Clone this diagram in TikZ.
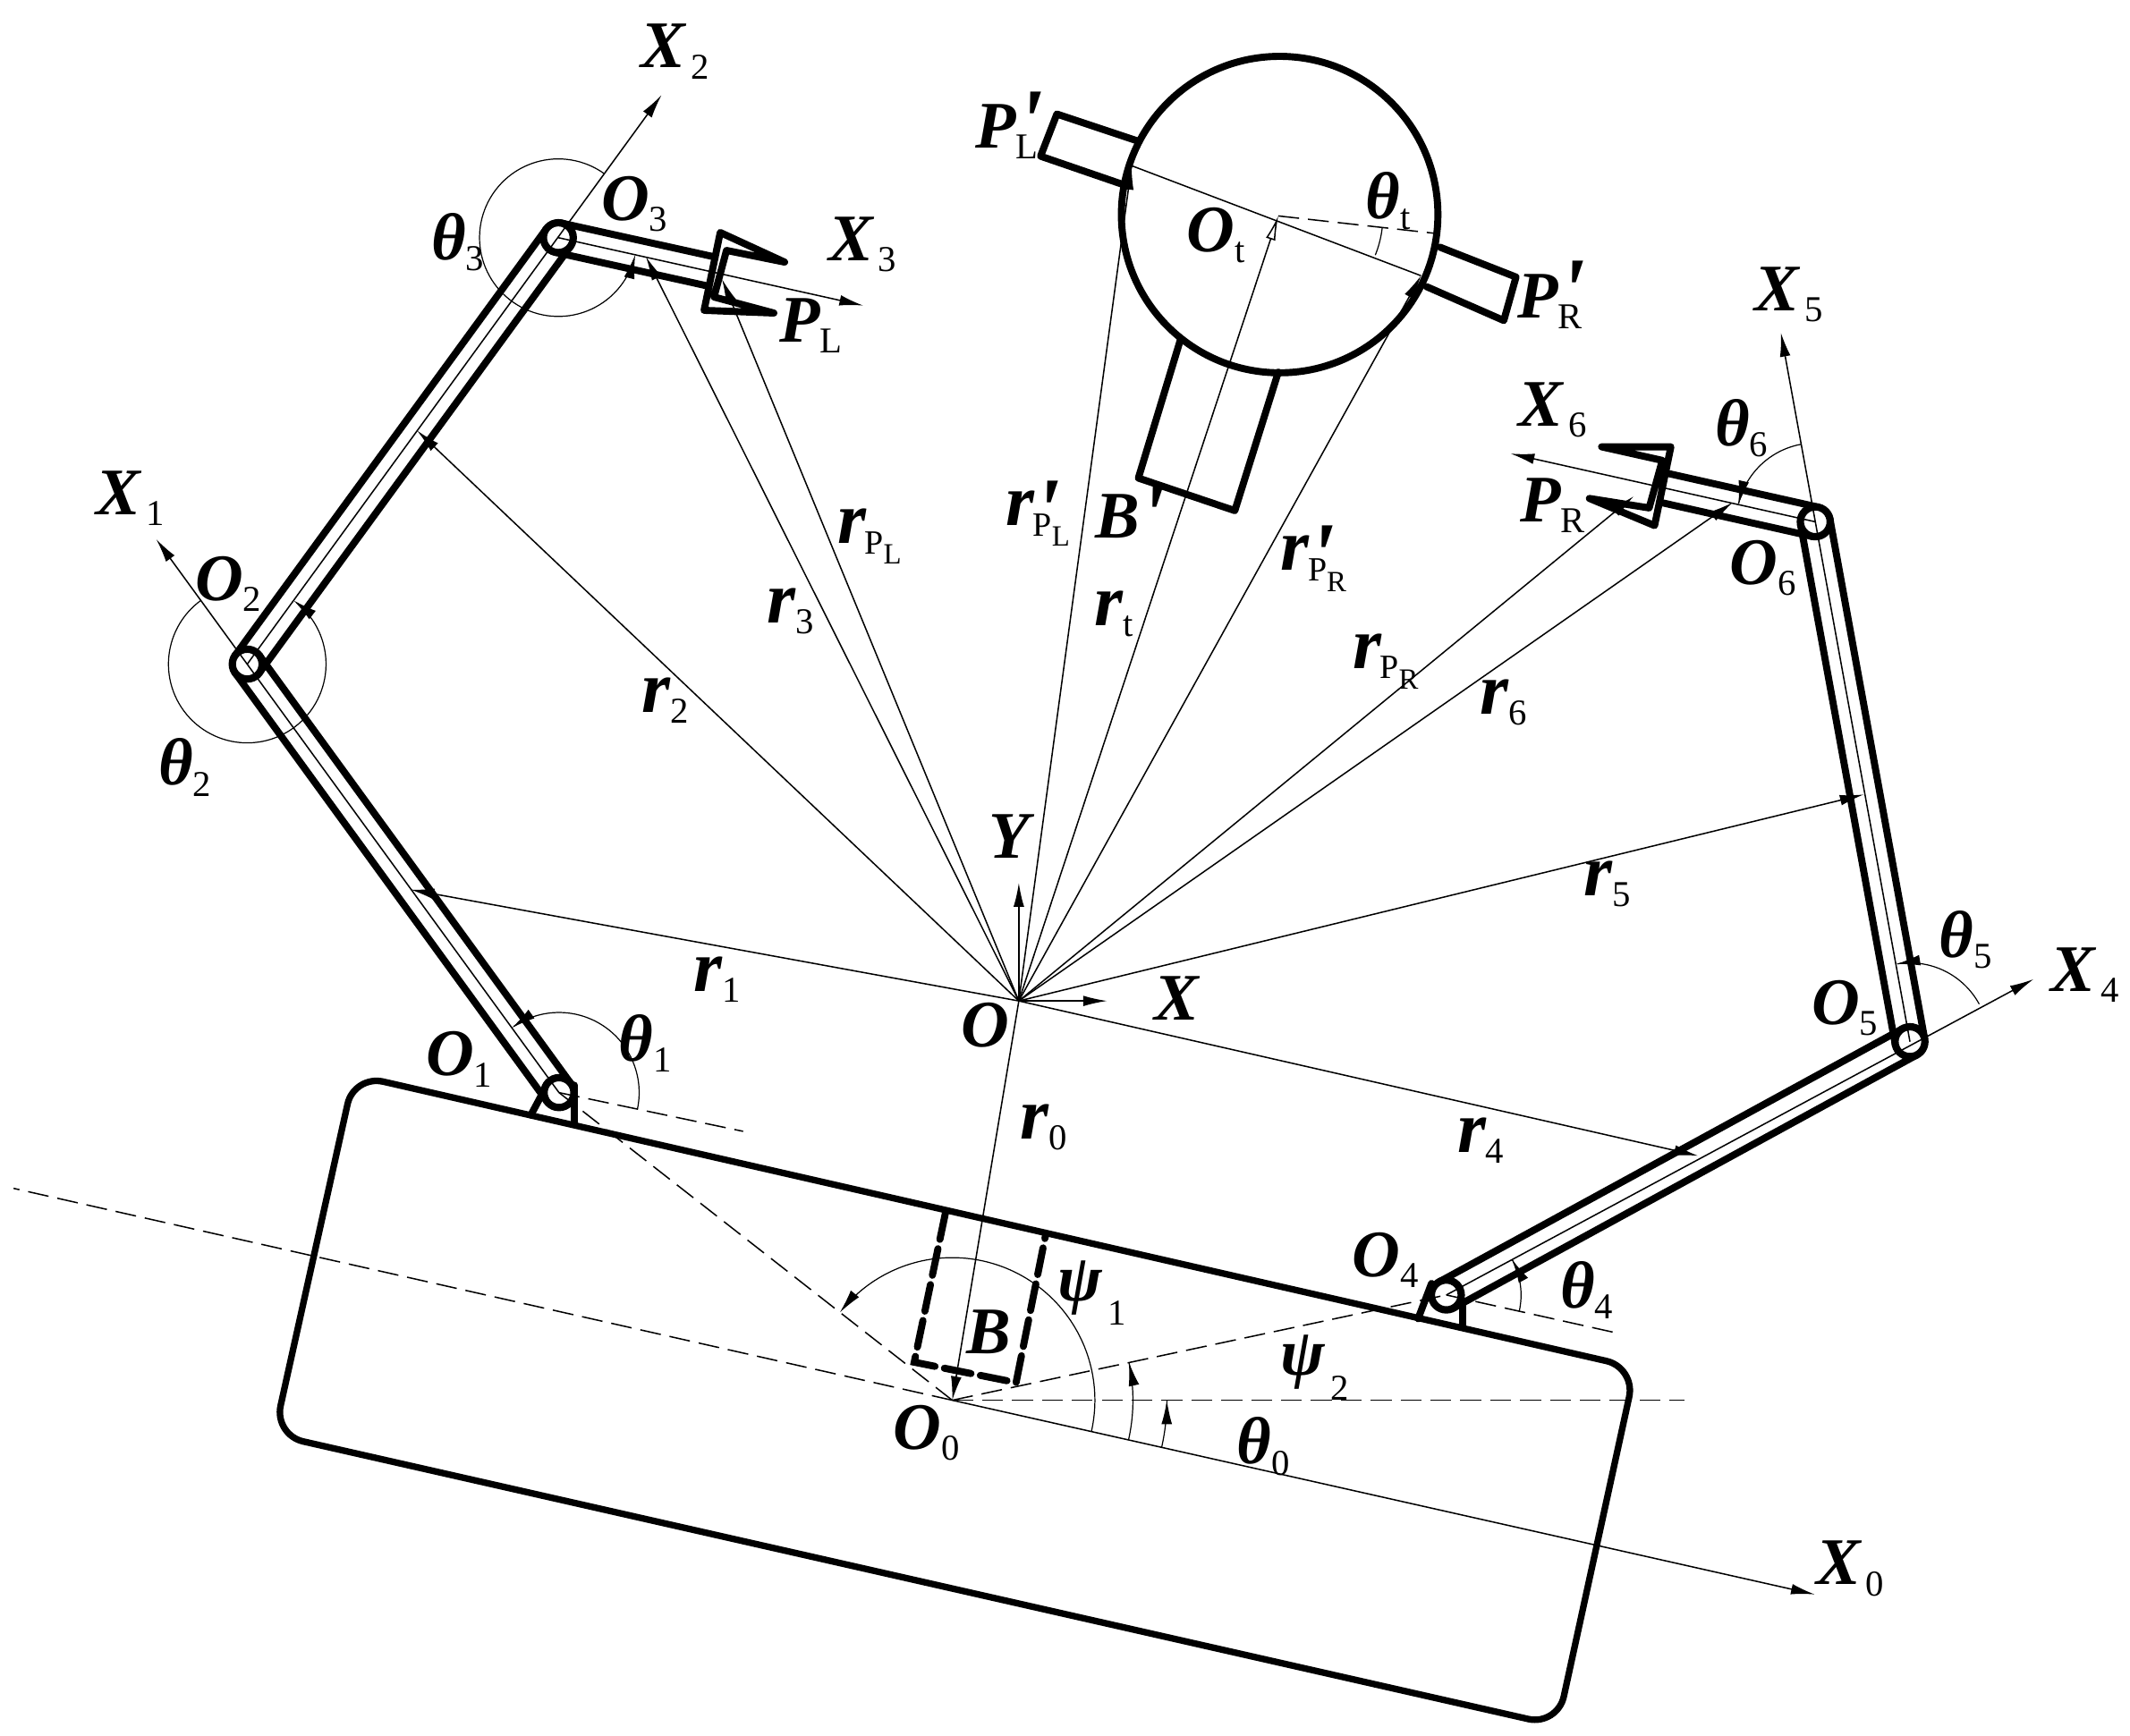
\documentclass[tikz,border=0pt]{standalone}
\usepackage{fontspec}
\setmainfont{Liberation Serif}
\newfontfamily\prf[Ligatures=ResetAll]{Liberation Serif}
\usetikzlibrary{arrows.meta,calc}
\newcommand\bi{\fontsize{24.5}{25}\selectfont\bfseries\itshape}
\newcommand\bir{\fontsize{27}{28}\selectfont\bfseries\itshape}
\newcommand\gk{\fontsize{24.5}{25}\selectfont\bfseries\itshape}
\newcommand\subt[2][0pt]{\raisebox{-4pt}{\kern#1\fontsize{13.4}{14}\selectfont\mdseries\upshape #2}}
\newcommand\subpsi[1]{\raisebox{-9pt}{\kern2pt\fontsize{13.4}{14}\selectfont\mdseries\upshape #1}}
\newcommand\subpl[1]{\raisebox{-3.8pt}{\kern-.5pt\fontsize{12.5}{13}\selectfont\mdseries\upshape P\raisebox{-3.8pt}{\fontsize{10.8}{11}\selectfont #1}}}
\newcommand\prm[2]{\rlap{\kern#1\smash{\raisebox{#2}{\prf\fontsize{34}{34}\selectfont\bfseries\itshape\char39}}}}
\tikzset{
  thinl/.style={line width=.5pt},
  hair/.style={line width=.4pt},
  thk/.style={line width=2.6pt,line join=round,line cap=round},
  dsh/.style={line width=.5pt,dash pattern=on 7.7pt off 3.3pt},
  thkdsh/.style={line width=2.6pt,dash pattern=on 10pt off 3.5pt,line cap=round},
  arr/.style={-{Latex[length=8.8pt,width=3.9pt]}},
  oarr/.style={-{Latex[open,length=9pt,width=3.6pt,fill=white]}},
  joint/.style={circle,draw,fill=white,line width=2.7pt,minimum size=11pt,inner sep=0pt,outer sep=0pt},
  lab/.style={inner sep=0pt,outer sep=0pt}
}
\newcommand\angarc[5][arr]{\draw[hair,#1,shift={(#2)}] plot[domain=#4:#5,samples=90] ({#3*cos(\x)},{#3*sin(\x)});}
\newcommand\link[2]{\draw[thk] ($(#1)!5.5pt!90:(#2)$) -- ($(#2)!5.5pt!-90:(#1)$); \draw[thk] ($(#1)!5.5pt!-90:(#2)$) -- ($(#2)!5.5pt!90:(#1)$);}
\begin{document}
\begin{tikzpicture}[x=.5pt,y=-.5pt]
\useasboundingbox[fill=white] (0,0) rectangle (1568,1278);
% key points
\coordinate (O) at (750,737);
\coordinate (O0) at (701,1031);
\coordinate (O1) at (411.5,804.5);
\coordinate (O2) at (182,489);
\coordinate (O3) at (411,175);
\coordinate (O4) at (1064.7,953.5);
\coordinate (O5) at (1406,767);
\coordinate (O6) at (1336.3,384.2);
\coordinate (Ot) at (941,159);
\coordinate (G3) at (524,200);
\coordinate (G6) at (1224,359);
\coordinate (TX) at (815,737);
\coordinate (TY) at (750,650);
\coordinate (TX0) at (1336,1174);
\coordinate (TX1) at (115,397);
\coordinate (TX2) at (487,70);
\coordinate (TX3) at (635.5,225);
\coordinate (TX4) at (1497,721);
\coordinate (TX5) at (1311,245);
\coordinate (TX6) at (1112,334);
\coordinate (Dl) at (10,875);
\coordinate (Dh) at (1240,1031);
\coordinate (D1) at (547,833);
\coordinate (D4) at (1188,981);
\coordinate (Dt) at (1058,172);
\coordinate (T1) at (302,655);
\coordinate (T2) at (307,317);
\coordinate (T3) at (475.5,189);
\coordinate (T4) at (1250,851);
\coordinate (T5) at (1372,585);
\coordinate (T6) at (1275.5,370);
\coordinate (TPL) at (531.5,205.5);
\coordinate (TPR) at (1202.6,365.5);
\coordinate (TPLp) at (833,122);
\coordinate (TPRp) at (1046,203);
% chassis
\draw[thk,line width=2.4pt] [rounded corners=11pt] (260.6,791.5) -- (1204,1007) -- (1146.5,1270.6) -- (201.8,1056.5) -- cycle;
% base slot
\draw[thkdsh] (696,893) -- (673,1003) -- (748,1018) -- (770,908);
% brackets
\draw[thk] (390.8,821) -- (398.4,806.8);
\draw[thk] (422.6,799) -- (422.6,827.6);
\draw[thk] (1043.9,971) -- (1053.8,945);
\draw[thk] (1076.8,960) -- (1076.8,977);
% links
\link{O1}{O2}
\link{O2}{O3}
\link{O3}{G3}
\link{O4}{O5}
\link{O5}{O6}
\link{O6}{G6}
% grippers
\draw[thk] (577.6,193) -- (530.2,171.2) -- (518.3,228.5) -- (569.7,230.5) -- (525.6,218.7) -- (534.8,184.4) -- cycle;
\draw[thk] (1179,329) -- (1230,329) -- (1218,387) -- (1170,367) -- (1214,374) -- (1223.7,339) -- cycle;
% target
\draw[thk] (Ot) ++(1,-1) circle[radius=116.5];
\draw[thk] (838,104) -- (778,84) -- (766,115) -- (830,137);
\draw[thk] (1060,182) -- (1116,204) -- (1107,236) -- (1050,211);
\draw[thk] (869,250) -- (838,352) -- (909,376) -- (941,274);
% joints
\foreach \j in {O1,O2,O3,O4,O5,O6} \node[joint] (J\j) at (\j) {};
% axes
\draw[thinl,arr] (O0) -- (TX0);
\draw[thinl,arr] (O1) -- (TX1);
\draw[thinl,arr] (O2) -- (TX2);
\draw[thinl,arr] (O3) -- (TX3);
\draw[thinl,arr] (O4) -- (TX4);
\draw[thinl,arr] (O5) -- (TX5);
\draw[thinl,arr] (O6) -- (TX6);
\draw[thinl,arr] (O) -- (TX);
\draw[thinl,arr] (O) -- (TY);
\draw[thinl] (TPLp) -- (TPRp);
% dashed
\draw[dsh] (O0) -- (Dl);
\draw[dsh] (O0) -- (Dh);
\draw[dsh] (O0) -- (O1);
\draw[dsh] (O0) -- (O4);
\draw[dsh] (O1) -- (D1);
\draw[dsh] (O4) -- (D4);
\draw[dsh] (Ot) -- (Dt);
% radius vectors
\draw[thinl,arr] (O) -- (O0);
\draw[thinl,arr] (O) -- (T1);
\draw[thinl,arr] (O) -- (T2);
\draw[thinl,arr] (O) -- (T3);
\draw[thinl,arr] (O) -- (T4);
\draw[thinl,arr] (O) -- (T5);
\draw[thinl,arr] (O) -- (T6);
\draw[thinl,arr] (O) -- (TPL);
\draw[thinl,arr] (O) -- (TPR);
\draw[thinl,arr] (O) -- (TPLp);
\draw[thinl,arr] (O) -- (TPRp);
\draw[thinl,oarr] (O) -- (Ot);
% angle arcs
\angarc{O0}{158}{12.7}{0}
\angarc{O0}{133}{12.7}{-12.2}
\angarc{O0}{105}{12.7}{-142}
\angarc{O1}{59}{12}{-126}
\angarc{O2}{58}{-126}{-414}
\angarc{O3}{58}{-54}{-347.4}
\angarc{O4}{55}{13}{-28.5}
\angarc{O5}{58}{-28.5}{-100}
\angarc{O6}{58}{-100}{-167.4}
\angarc[-]{Ot}{77}{6.3}{22}
% labels
\node[lab] (lX) at (866,735) {\bi X};
\node[lab] (lY) at (743,616) {\bi Y};
\node[lab] (lO) at (725,755) {\bi O};
\node[lab] (lX0) at (1362,1155) {\bi X\subt[2pt]{0}};
\node[lab] (lX1) at (96,367) {\bi X\subt[2pt]{1}};
\node[lab] (lX2) at (497,38) {\bi X\subt[2pt]{2}};
\node[lab] (lX3) at (635,180) {\bi X\subt[2pt]{3}};
\node[lab] (lX4) at (1535,718) {\bi X\subt[2pt]{4}};
\node[lab] (lX5) at (1317,217) {\bi X\subt[2pt]{5}};
\node[lab] (lX6) at (1143,302) {\bi X\subt[2pt]{6}};
\node[lab] (lO0) at (682,1055) {\bi O\subt{0}};
\node[lab] (lO1) at (338,780) {\bi O\subt{1}};
\node[lab] (lO2) at (168,430) {\bi O\subt{2}};
\node[lab] (lO3) at (467,150) {\bi O\subt{3}};
\node[lab] (lO4) at (1020,928) {\bi O\subt{4}};
\node[lab] (lO5) at (1358,742) {\bi O\subt{5}};
\node[lab] (lO6) at (1298,418) {\bi O\subt{6}};
\node[lab] (lOt) at (895,173) {\bi O\subt{t}};
\node[lab] (lth0) at (930,1065) {\gk θ\subt{0}};
\node[lab] (lth1) at (475,768) {\gk θ\subt{1}};
\node[lab] (lth2) at (136,565) {\gk θ\subt{2}};
\node[lab] (lth3) at (337,178) {\gk θ\subt{3}};
\node[lab] (lth4) at (1168,950) {\gk θ\subt{4}};
\node[lab] (lth5) at (1447,692) {\gk θ\subt{5}};
\node[lab] (lth6) at (1282,315) {\gk θ\subt{6}};
\node[lab] (ltht) at (1022,148) {\gk θ\subt{t}};
\node[lab] (lpsi1) at (804,952) {\gk ψ\subpsi{1}};
\node[lab] (lpsi2) at (968,1007) {\gk ψ\subpsi{2}};
\node[lab] (lB) at (728,981) {\bi B};
\node[lab] (lBp) at (823,380) {\bi B\prm{0pt}{-3.2pt}};
\node[lab] (lPL) at (597,240) {\bi P\subt{L}};
\node[lab] (lPR) at (1143,372) {\bi P\subt{R}};
\node[lab] (lPLp) at (741,97) {\bi P\prm{.5pt}{-1.5pt}\subt{L}};
\node[lab] (lPRp) at (1141,222) {\bi P\prm{.5pt}{-1.5pt}\subt{R}};
\node[lab] (lr0) at (768,830) {\bir r\subt{0}};
\node[lab] (lr1) at (528,721) {\bir r\subt{1}};
\node[lab] (lr2) at (490,516) {\bir r\subt{2}};
\node[lab] (lr3) at (582,450) {\bir r\subt{3}};
\node[lab] (lr4) at (1090,840) {\bir r\subt{4}};
\node[lab] (lr5) at (1183,651) {\bir r\subt{5}};
\node[lab] (lr6) at (1107,517) {\bir r\subt{6}};
\node[lab] (lrt) at (820,452) {\bir r\subt{t}};
\node[lab] (lrPL) at (640,395) {\bir r\subpl{L}};
\node[lab] (lrPR) at (1020,487) {\bir r\subpl{R}};
\node[lab] (lrPLp) at (764,382) {\bir r\prm{0pt}{-5.8pt}\subpl{L}};
\node[lab] (lrPRp) at (967,415) {\bir r\prm{0pt}{-5.8pt}\subpl{R}};
\end{tikzpicture}
\end{document}
